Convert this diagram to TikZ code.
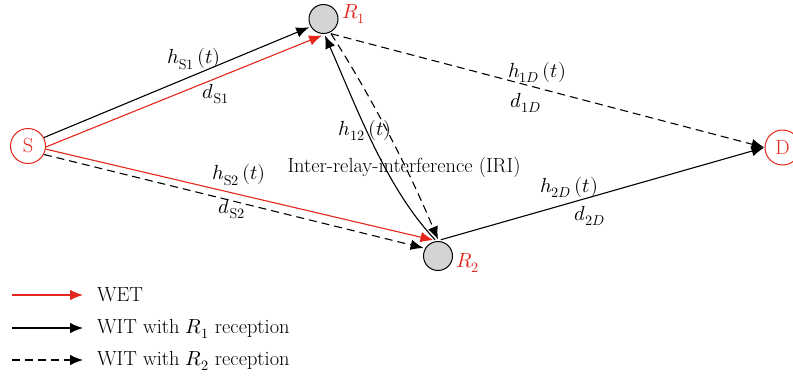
\documentclass[tikz,border=0pt]{standalone}
\usepackage{unicode-math}
\usetikzlibrary{arrows.meta}
\definecolor{wetred}{RGB}{228,38,28}
\definecolor{relgray}{RGB}{212,212,212}
\begin{document}
\begin{tikzpicture}[x=1pt,y=-1pt,
  font=\fontsize{20.4}{24}\selectfont,
  tipstyle/.style={-{Latex[length=13pt,width=10.5pt]}},
  wet/.style={draw=wetred, line width=1.1pt, tipstyle},
  witone/.style={draw=black, line width=1.1pt, tipstyle},
  wittwo/.style={draw=black, line width=1.1pt, dash pattern=on 8pt off 5pt, tipstyle},
  term/.style={circle, draw=wetred, line width=1pt, minimum size=35pt, inner sep=0pt, text=wetred},
  relay/.style={circle, draw=black, fill=relgray, line width=1pt, minimum size=29pt, inner sep=0pt, outer sep=2pt},
  lbl/.style={inner sep=0pt},
  leglbl/.style={inner sep=0pt, anchor=base west}
]
\useasboundingbox (0,0) rectangle (793,376);

% nodes
\node[term] (S) at (28,146) {S};
\node[relay] (R1) at (323.5,19) {};
\node[relay] (R2) at (438,256) {};
\node[term] (D) at (782.5,147.5) {D};
\node[lbl, anchor=west, text=wetred] (R1l) at (342,14) {$R_1$};
\node[lbl, anchor=west, text=wetred] (R2l) at (456,263) {$R_2$};

% connectors
\draw[witone] (S.28) -- (R1.210);
\draw[wet] (S.-3) -- (R1.-95);
\draw[wet] (S.-10) -- (R2.106);
\draw[wittwo] (S.-28) -- (R2.151);
\draw[wittwo] (R1.-63) -- (D.west);
\draw[witone] (R2.80) -- (D.west);
\draw[witone] (R2.100) .. controls (387,189) and (358,111) .. (R1.-85);
\draw[wittwo] (R1.-63) .. controls (370.5,95) and (409,170) .. (R2.90);

% labels
\node[lbl] (hs1) at (194,59) {$h_{\mathrm{S}1}\,(t)$};
\node[lbl] (ds1) at (216,94) {$d_{\mathrm{S}1}$};
\node[lbl] (hs2) at (239,175) {$h_{\mathrm{S}2}\,(t)$};
\node[lbl] (ds2) at (232,209) {$d_{\mathrm{S}2}$};
\node[lbl] (h1d) at (537,72) {$h_{1D}\,(t)$};
\node[lbl] (d1d) at (526,103) {$d_{1D}$};
\node[lbl] (h2d) at (569,187) {$h_{2D}\,(t)$};
\node[lbl] (d2d) at (590,216) {$d_{2D}$};
\node[lbl] (h12) at (365,130) {$h_{12}\,(t)$};
\node[lbl] (iri) at (404,167) {Inter-relay-interference (IRI)};

% legend
\coordinate (la1) at (12,295); \coordinate (lb1) at (83,295);
\coordinate (la2) at (12,328); \coordinate (lb2) at (83,328);
\coordinate (la3) at (12,360); \coordinate (lb3) at (83,360);
\draw[wet] (la1) -- (lb1);
\draw[witone] (la2) -- (lb2);
\draw[wittwo] (la3) -- (lb3);
\node[leglbl] (lt1) at (97,301) {WET};
\node[leglbl] (lt2) at (97,333) {WIT with $R_1$ reception};
\node[leglbl] (lt3) at (97,365) {WIT with $R_2$ reception};
\end{tikzpicture}
\end{document}
